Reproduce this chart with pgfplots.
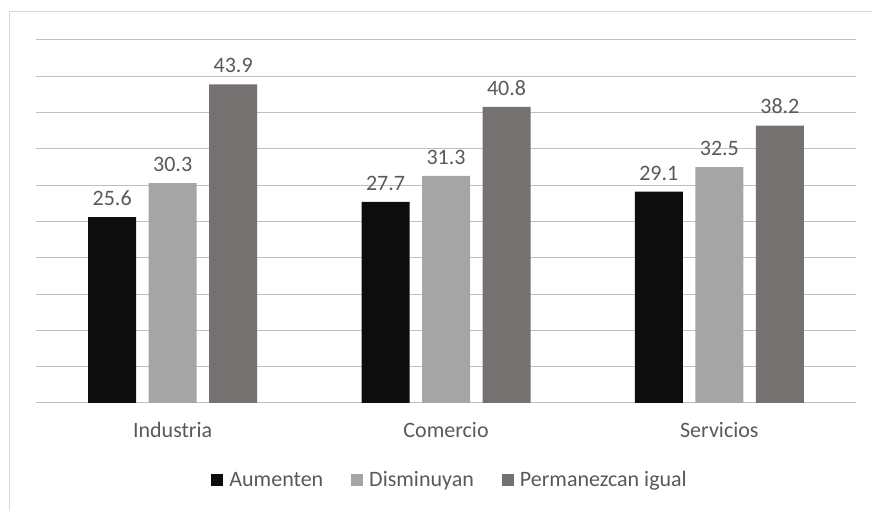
\documentclass[border=0pt]{standalone}
\usepackage{pgfplots}
\pgfplotsset{compat=1.18}
\usepackage{fontspec}
\setmainfont{Carlito}
\definecolor{cA}{HTML}{0D0D0D}
\definecolor{cB}{HTML}{A5A5A5}
\definecolor{cC}{HTML}{767171}
\definecolor{grid}{HTML}{D9D9D9}
\definecolor{txt}{HTML}{595959}
\begin{document}
\begin{tikzpicture}[x=1bp,y=1bp]
\useasboundingbox (0,0) rectangle (872,511);
\draw[grid,line width=1bp] (9,0) -- (9,499) -- (872,499);
\begin{axis}[
  at={(36bp,108bp)}, anchor=south west,
  scale only axis, width=820bp, height=363bp,
  ybar=12.5bp, bar width=48bp,
  xmin=-0.5, xmax=2.5, ymin=0, ymax=50,
  xtick=data, xticklabels={Industria,Comercio,Servicios},
  ytick={0,5,...,50}, yticklabels={},
  xmajorgrids=false, ymajorgrids=true, grid style={grid, line width=1bp},
  axis line style={draw=none},
  major tick length=0pt,
  xtick style={draw=none}, ytick style={draw=none},
  xticklabel style={font=\fontsize{22bp}{26bp}\selectfont, text=txt, yshift=-16bp},
  nodes near coords,
  nodes near coords style={font=\fontsize{22bp}{26bp}\selectfont, text=txt, /pgf/number format/fixed, /pgf/number format/precision=1, /pgf/number format/fixed zerofill, /pgf/number format/assume math mode=true, yshift=8bp},
  legend columns=3,
  legend style={at={(0.505,-0.212)}, anchor=center, draw=none, fill=none, font=\fontsize{22bp}{26bp}\selectfont, text=txt, /tikz/every odd column/.append style={column sep=4bp}, /tikz/every even column/.append style={column sep=26bp}},
  legend image code/.code={\fill[#1] (0bp,-6bp) rectangle (12bp,6bp);},
]
\addplot[fill=cA, draw=none] coordinates {(0,25.6) (1,27.7) (2,29.1)};
\addplot[fill=cB, draw=none] coordinates {(0,30.3) (1,31.3) (2,32.5)};
\addplot[fill=cC, draw=none] coordinates {(0,43.9) (1,40.8) (2,38.2)};
\legend{Aumenten,Disminuyan,Permanezcan igual}
\end{axis}
\end{tikzpicture}
\end{document}
